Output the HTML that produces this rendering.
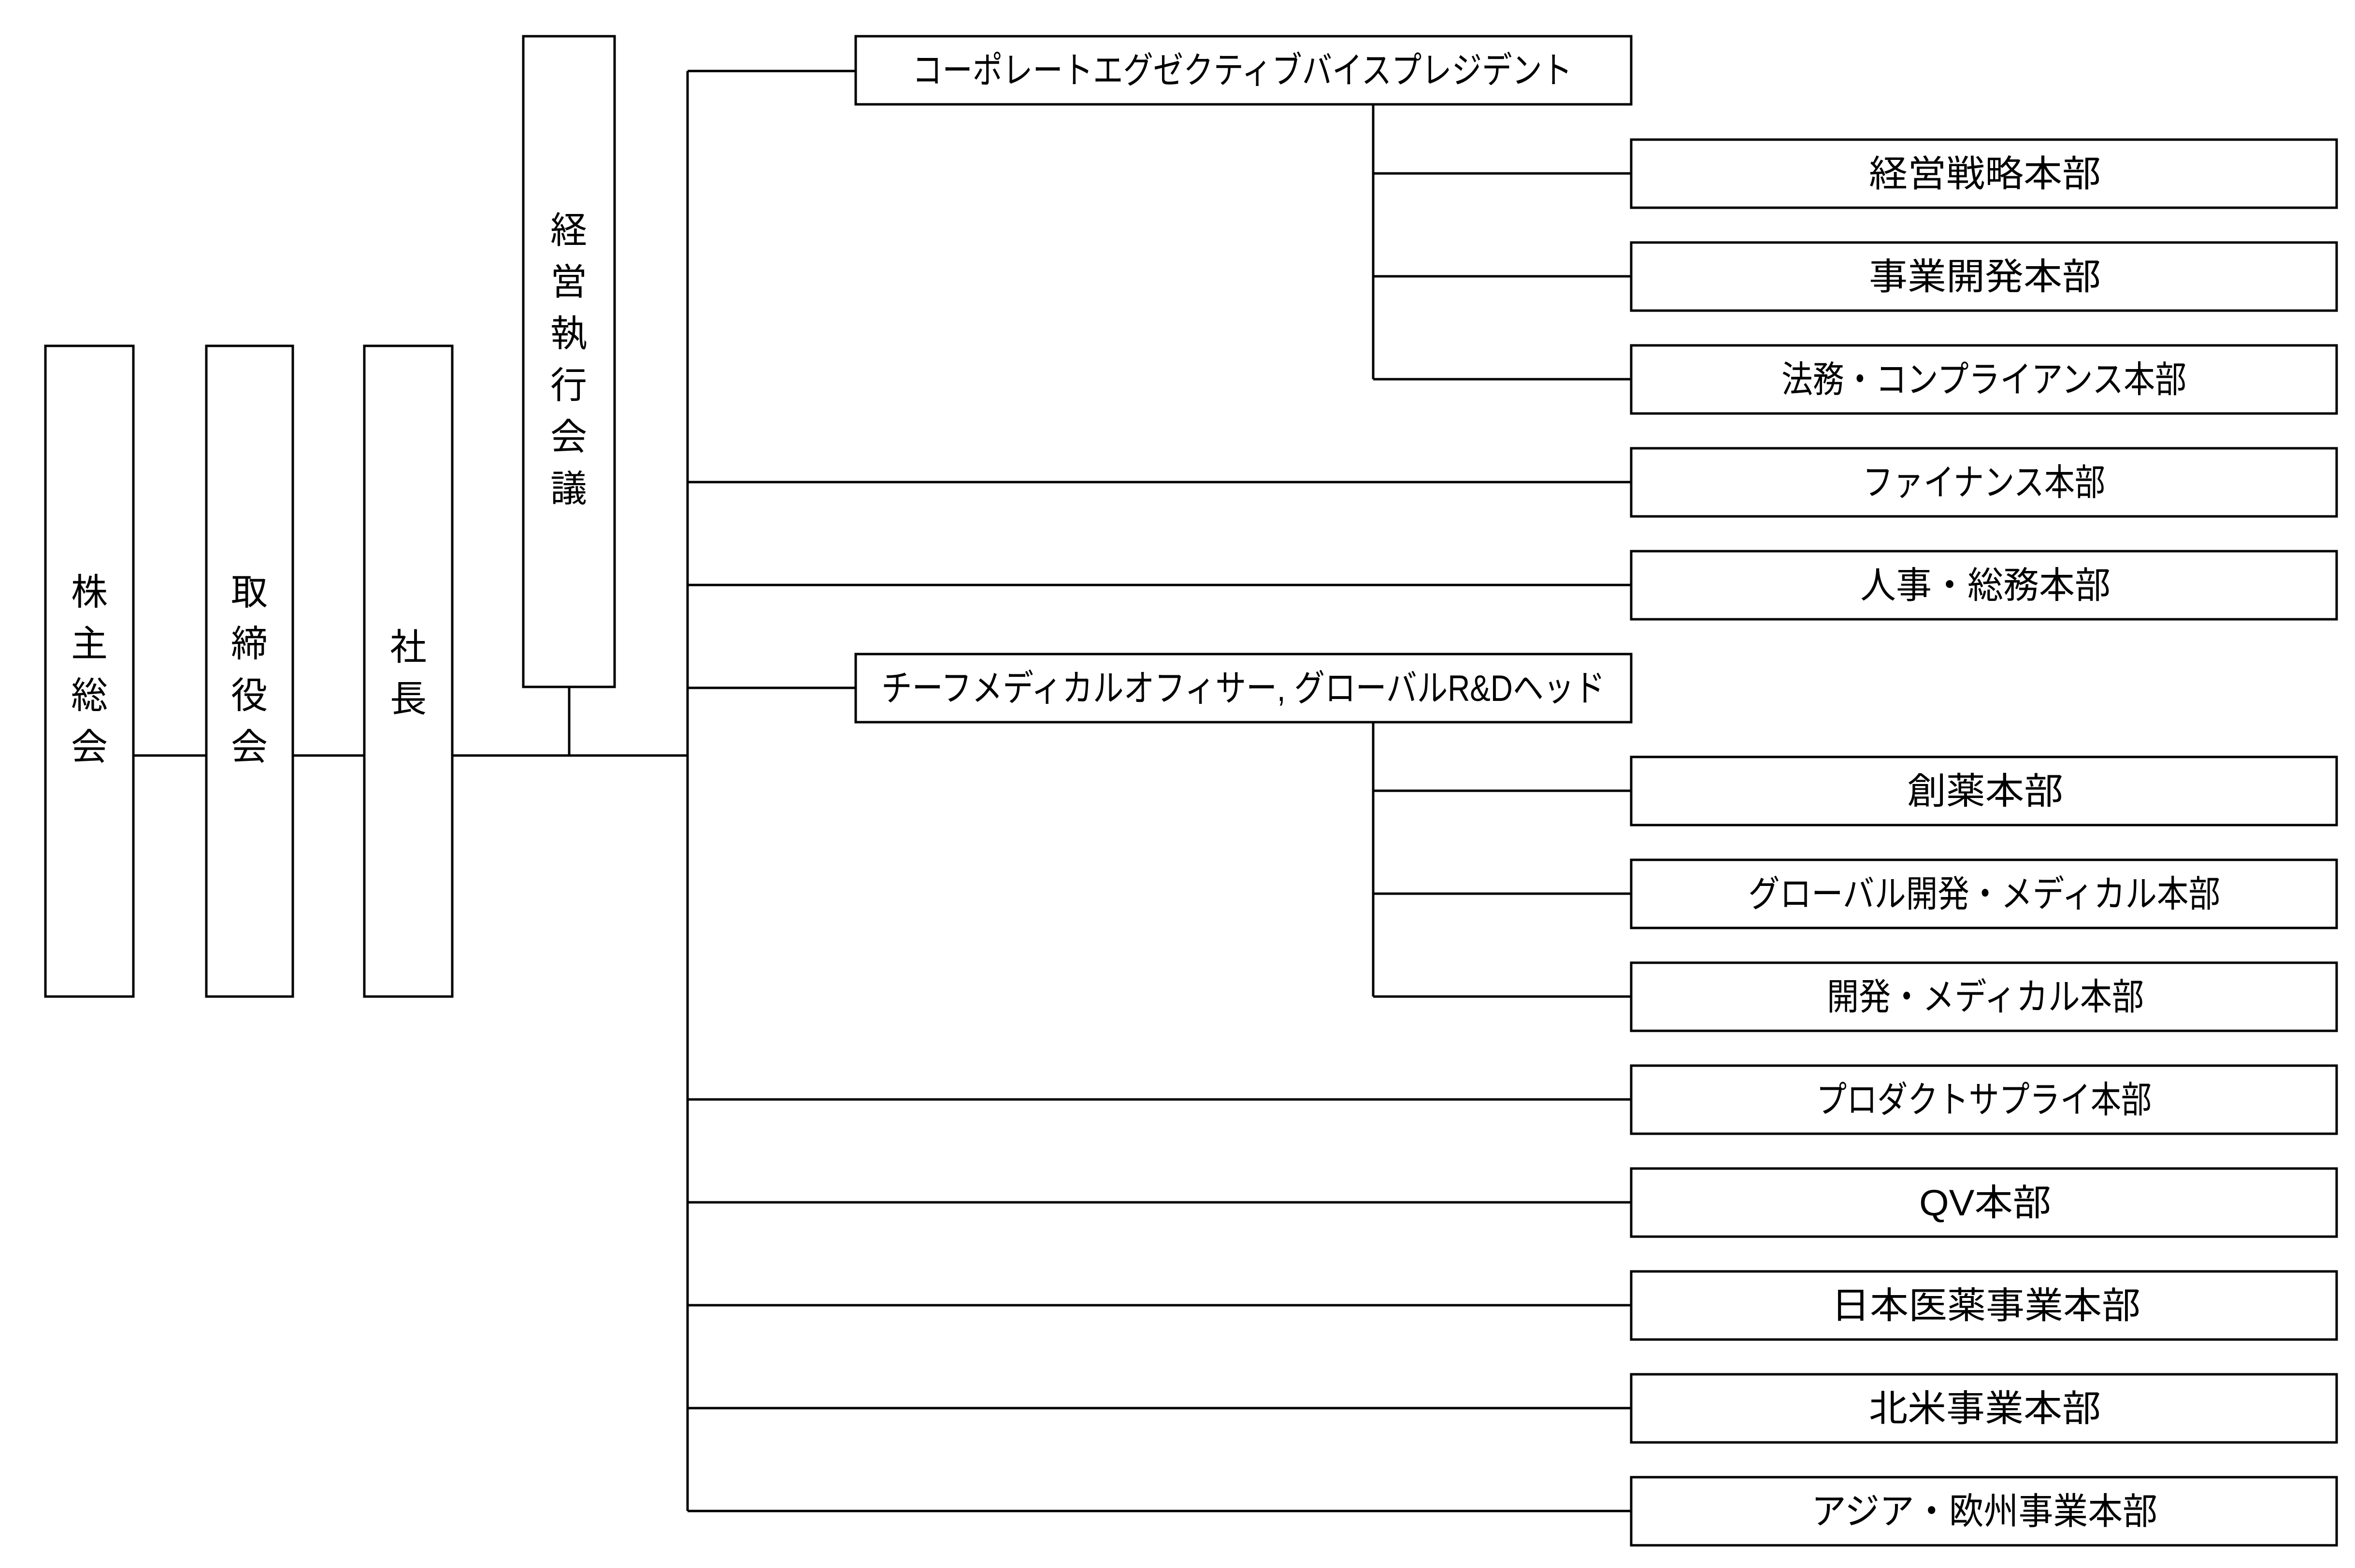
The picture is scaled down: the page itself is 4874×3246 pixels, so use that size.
<!DOCTYPE html>
<html><head><meta charset="utf-8"><style>
html,body{margin:0;padding:0;background:#fff;}
svg{display:block;}
text{font-family:"Liberation Sans","Noto Sans CJK JP",sans-serif;font-size:76px;fill:#000;}
</style></head><body>
<svg width="4874" height="3246" viewBox="0 0 4874 3246" xmlns="http://www.w3.org/2000/svg">
<g fill="#fff" stroke="#000" stroke-width="5">
<rect x="94" y="716" width="182" height="1347"/>
<rect x="427" y="716" width="179" height="1347"/>
<rect x="754" y="716" width="182" height="1347"/>
<rect x="1083" y="75" width="189" height="1347"/>
<rect x="1771" y="75" width="1605" height="141"/>
<rect x="1771" y="1354" width="1605" height="141"/>
<rect x="3376" y="289" width="1460" height="141"/>
<rect x="3376" y="502" width="1460" height="141"/>
<rect x="3376" y="715" width="1460" height="141"/>
<rect x="3376" y="928" width="1460" height="141"/>
<rect x="3376" y="1141" width="1460" height="141"/>
<rect x="3376" y="1567" width="1460" height="141"/>
<rect x="3376" y="1780" width="1460" height="141"/>
<rect x="3376" y="1993" width="1460" height="141"/>
<rect x="3376" y="2206" width="1460" height="141"/>
<rect x="3376" y="2419" width="1460" height="141"/>
<rect x="3376" y="2632" width="1460" height="141"/>
<rect x="3376" y="2845" width="1460" height="141"/>
<rect x="3376" y="3058" width="1460" height="141"/>
</g>
<g stroke="#000" stroke-width="5" fill="none">
<path d="M276 1564H427M606 1564H754M936 1564H1423M1178 1422V1564"/>
<path d="M1423 147V3128"/>
<path d="M1423 147H1771M1423 998H3376M1423 1211H3376M1423 1424H1771"/>
<path d="M1423 2276H3376M1423 2489H3376M1423 2702H3376M1423 2915H3376M1423 3128H3376"/>
<path d="M2842 216V785M2842 359H3376M2842 572H3376M2842 785H3376"/>
<path d="M2842 1495V2063M2842 1637H3376M2842 1850H3376M2842 2063H3376"/>
</g>
<g text-anchor="middle">
<text x="185" y="1252">株</text><text x="185" y="1359">主</text><text x="185" y="1466">総</text><text x="185" y="1573">会</text>
<text x="516" y="1252">取</text><text x="516" y="1359">締</text><text x="516" y="1466">役</text><text x="516" y="1573">会</text>
<text x="845" y="1366">社</text><text x="845" y="1473">長</text>
<text x="1177" y="503">経</text><text x="1177" y="610">営</text><text x="1177" y="717">執</text><text x="1177" y="824">行</text><text x="1177" y="931">会</text><text x="1177" y="1038">議</text>
</g>
<g lengthAdjust="spacingAndGlyphs">
<text x="1888" y="172" textLength="1366" lengthAdjust="spacingAndGlyphs">コーポレートエグゼクティブバイスプレジデント</text>
<text x="1824" y="1451" textLength="1498" lengthAdjust="spacingAndGlyphs">チーフメディカルオフィサー, グローバルR&amp;Dヘッド</text>
<text x="3868" y="386" textLength="480" lengthAdjust="spacingAndGlyphs">経営戦略本部</text>
<text x="3868" y="599" textLength="480" lengthAdjust="spacingAndGlyphs">事業開発本部</text>
<text x="3687" y="812" textLength="838" lengthAdjust="spacingAndGlyphs">法務・コンプライアンス本部</text>
<text x="3855" y="1025" textLength="502" lengthAdjust="spacingAndGlyphs">ファイナンス本部</text>
<text x="3850" y="1238" textLength="518" lengthAdjust="spacingAndGlyphs">人事・総務本部</text>
<text x="3947" y="1664" textLength="323" lengthAdjust="spacingAndGlyphs">創薬本部</text>
<text x="3618" y="1877" textLength="977" lengthAdjust="spacingAndGlyphs">グローバル開発・メディカル本部</text>
<text x="3781" y="2090" textLength="656" lengthAdjust="spacingAndGlyphs">開発・メディカル本部</text>
<text x="3759" y="2303" textLength="694" lengthAdjust="spacingAndGlyphs">プロダクトサプライ本部</text>
<text x="3972" y="2516" textLength="273" lengthAdjust="spacingAndGlyphs">QV本部</text>
<text x="3790" y="2729" textLength="640" lengthAdjust="spacingAndGlyphs">日本医薬事業本部</text>
<text x="3868" y="2942" textLength="480" lengthAdjust="spacingAndGlyphs">北米事業本部</text>
<text x="3749" y="3155" textLength="716" lengthAdjust="spacingAndGlyphs">アジア・欧州事業本部</text>
</g>
</svg>
</body></html>
